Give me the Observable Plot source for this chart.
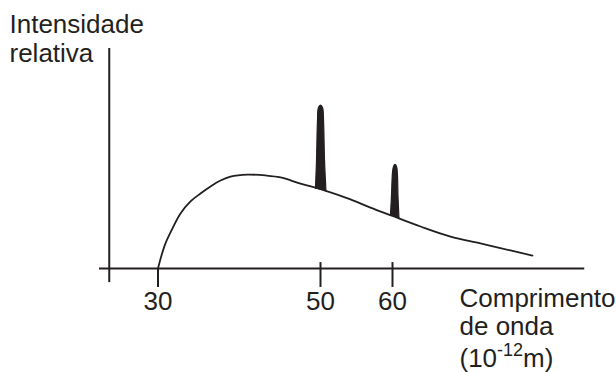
<!DOCTYPE html>
<html><head><meta charset="utf-8">
<script src="https://cdn.jsdelivr.net/npm/d3@7"></script>
<script src="https://cdn.jsdelivr.net/npm/@observablehq/plot@0.6"></script>
<style>body{margin:0;background:#fff}</style>
</head><body><div id="chart"></div>
<script>
// ---- data ----
const tickValues = [30, 50, 60];
const contX = [30, 30.43, 30.92, 31.54, 32.77, 34.0, 35.23, 36.46, 37.69, 38.92, 41.02, 43.23, 45.08, 47.54, 50, 54.17, 56.94, 60, 63.89, 68.06, 72.22, 76.39, 79.44];
const contY = [0, 5.9, 11.4, 16.4, 25.0, 30.5, 34.1, 37.3, 40.0, 41.8, 42.7, 42.3, 41.4, 38.6, 36.1, 31.4, 27.7, 23.9, 19.1, 14.5, 11.4, 8.2, 5.9];
const peak50X = [49.38, 49.51, 49.63, 49.75, 50.0, 50.28, 50.42, 50.56, 50.76];
const peak50Y = [36.4, 49.1, 67.3, 73.2, 74.3, 73.2, 67.3, 49.1, 35.2];
const peak60X = [59.72, 59.86, 60.0, 60.14, 60.35, 60.56, 60.69, 60.76, 60.9];
const peak60Y = [24.3, 33.2, 43.6, 46.4, 47.3, 46.4, 42.3, 33.2, 22.7];
const yLabel = "Intensidade\nrelativa";
const xLabel = "Comprimento\nde onda";
const unitBase = "(10", unitExp = "-12", unitTail = "m)";

// axis extents in data units
const xAxisFrom = 22.8, xAxisTo = 86.7;
const yAxisAt = 24.0, yAxisFrom = -6.4, yAxisTo = 100;
const tickBottom = -8.6, tickTop = 2.7;

const ink = "#231f20";
const fs = 26;
const rows = (xs, ys) => xs.map((x, i) => ({x, y: ys[i]}));

const chart = Plot.plot({
  width: 616, height: 372,
  marginTop: 48, marginBottom: 104, marginLeft: 0, marginRight: 0,
  style: {fontFamily: "'Liberation Sans', Arial, sans-serif", fontSize: fs + "px", color: ink, background: "#fff"},
  x: {type: "linear", domain: [30, 50, 60], range: [157.5, 320, 392]},
  y: {domain: [0, 100], axis: null},
  marks: [
    Plot.ruleY([0], {x1: xAxisFrom, x2: xAxisTo, stroke: ink, strokeWidth: 2}),
    Plot.ruleX([yAxisAt], {y1: yAxisFrom, y2: yAxisTo, stroke: ink, strokeWidth: 2}),
    Plot.ruleX(tickValues, {x: d => d, y1: tickBottom, y2: d => d === tickValues[0] ? 0 : tickTop, stroke: ink, strokeWidth: 2}),
    Plot.line(rows(contX, contY), {x: "x", y: "y", curve: "catmull-rom", stroke: ink, strokeWidth: 1.8}),
    Plot.line(rows(peak50X, peak50Y), {x: "x", y: "y", curve: "catmull-rom", stroke: ink, fill: ink, strokeWidth: 1.2}),
    Plot.line(rows(peak60X, peak60Y), {x: "x", y: "y", curve: "catmull-rom", stroke: ink, fill: ink, strokeWidth: 1.2}),
    Plot.axisX(tickValues, {tickSize: 0, tickPadding: 23, label: null, fontSize: fs, fill: ink}),
    Plot.text([yLabel], {frameAnchor: "top-left", dx: 9, dy: 13, lineAnchor: "bottom", textAnchor: "start", lineHeight: 1.1, fontSize: fs, fill: ink}),
    Plot.text([xLabel], {frameAnchor: "bottom-left", dx: 459, dy: 18, lineAnchor: "top", textAnchor: "start", lineHeight: 1.1, fontSize: fs, fill: ink}),
    Plot.text([unitBase + unitExp + unitTail], {frameAnchor: "bottom-left", dx: 459, dy: 98, lineAnchor: "bottom", textAnchor: "start", fontSize: fs, fill: ink})
  ]
});
document.getElementById("chart").appendChild(chart);

// superscript for the unit label
d3.select(chart).selectAll("text").filter(function() { return this.textContent === unitBase + unitExp + unitTail; })
  .each(function() {
    const t = d3.select(this);
    t.text(null);
    t.append("tspan").text(unitBase);
    t.append("tspan").attr("dy", -11).attr("font-size", 18).text(unitExp);
    t.append("tspan").attr("dy", 11).text(unitTail);
  });
</script>
</body></html>
